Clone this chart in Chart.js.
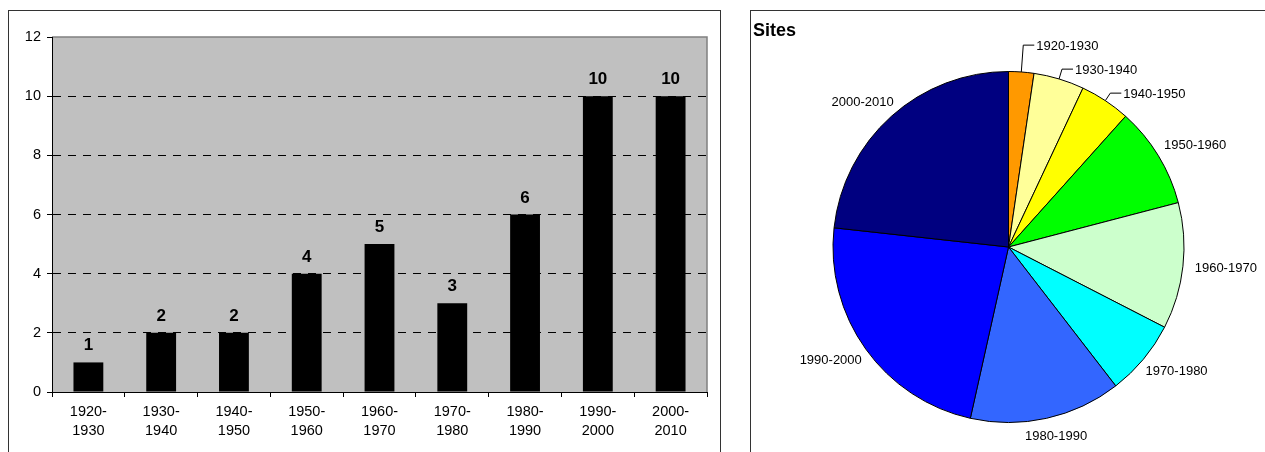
<!DOCTYPE html>
<html>
<head>
<meta charset="utf-8">
<script src="https://cdn.jsdelivr.net/npm/chart.js@4"></script>
<style>
  body { margin: 0; width: 1265px; height: 452px; overflow: hidden; background: #fff; font-family: "Liberation Sans", Arial, sans-serif; }
  .box { position: absolute; border: 1px solid #333; background: #fff; }
  #barBox { left: 8px; top: 10px; width: 711px; height: 460px; }
  #pieBox { left: 750px; top: 10px; width: 530px; height: 460px; }
  canvas { position: absolute; left: 0; top: 0; }
</style>
</head>
<body>
<div class="box" id="barBox"><canvas id="barChart" width="711" height="441"></canvas></div>
<div class="box" id="pieBox"><canvas id="pieChart" width="515" height="441"></canvas></div>
<script>
// Decades and number of sites per decade
const decades = ['1920-1930', '1930-1940', '1940-1950', '1950-1960', '1960-1970',
                 '1970-1980', '1980-1990', '1990-2000', '2000-2010'];
const siteCounts = [1, 2, 2, 4, 5, 3, 6, 10, 10];
const yTicks = [0, 2, 4, 6, 8, 10, 12];
const pieColors = ['#FF9900', '#FFFF99', '#FFFF00', '#00FF00', '#CCFFCC',
                   '#00FFFF', '#3366FF', '#0000FF', '#000080'];
const pieTitle = 'Sites';

const FONT = '"Liberation Sans", Arial, sans-serif';

// Grey plot area with a grey edge on top and right
const plotBackground = {
    id: 'plotBackground',
    beforeDraw(chart) {
        const { ctx, chartArea: a } = chart;
        ctx.save();
        ctx.fillStyle = '#C0C0C0';
        ctx.fillRect(a.left, a.top, a.right - a.left, a.bottom - a.top);
        ctx.strokeStyle = '#808080';
        ctx.lineWidth = 1.5;
        ctx.beginPath();
        ctx.moveTo(a.left, a.top);
        ctx.lineTo(a.right, a.top);
        ctx.lineTo(a.right, a.bottom);
        ctx.stroke();
        ctx.restore();
    }
};

// Bold value labels above each bar
const barValues = {
    id: 'barValues',
    afterDatasetsDraw(chart) {
        const { ctx } = chart;
        const meta = chart.getDatasetMeta(0);
        ctx.save();
        ctx.font = 'bold 17px ' + FONT;
        ctx.fillStyle = '#000';
        ctx.textAlign = 'center';
        ctx.textBaseline = 'alphabetic';
        meta.data.forEach((bar, i) => {
            ctx.fillText(String(siteCounts[i]), bar.x, bar.y - 12);
        });
        ctx.restore();
    }
};

new Chart(document.getElementById('barChart'), {
    type: 'bar',
    data: {
        labels: decades.map(d => { const p = d.split('-'); return [p[0] + '-', p[1]]; }),
        datasets: [{
            data: siteCounts,
            backgroundColor: '#000',
            barPercentage: 0.41,
            categoryPercentage: 1
        }]
    },
    options: {
        responsive: false,
        animation: false,
        layout: { padding: { left: 0, right: 13, top: 26, bottom: 0 } },
        plugins: { legend: { display: false }, tooltip: { enabled: false } },
        scales: {
            x: {
                offset: true,
                grid: { offset: true, drawOnChartArea: false, color: '#000', tickLength: 5 },
                border: { color: '#000', width: 1 },
                ticks: { color: '#000', font: { family: FONT, size: 14.5, lineHeight: 1.3 }, padding: 6, maxRotation: 0 },
                afterFit(scale) { scale.height = 60; }
            },
            y: {
                min: 0,
                max: 12,
                afterBuildTicks(scale) { scale.ticks = yTicks.map(v => ({ value: v })); },
                grid: {
                    color: ctx => (ctx.tick && (ctx.tick.value === 0 || ctx.tick.value === 12)) ? 'rgba(0,0,0,0)' : '#000',
                    tickColor: '#000',
                    tickLength: 5,
                    tickBorderDash: []
                },
                border: { color: '#000', width: 1, dash: [8, 7] },
                ticks: { color: '#000', font: { family: FONT, size: 14.5 }, padding: 6 },
                afterFit(scale) { scale.width = 43; }
            }
        }
    },
    plugins: [plotBackground, barValues]
});

// Pie labels outside the slices; small slices get leader lines and are stacked
const pieLabels = {
    id: 'pieLabels',
    afterDatasetsDraw(chart) {
        const { ctx } = chart;
        const meta = chart.getDatasetMeta(0);
        const total = siteCounts.reduce((a, b) => a + b, 0);
        ctx.save();
        ctx.font = '13px ' + FONT;
        ctx.fillStyle = '#000';
        ctx.strokeStyle = '#000';
        ctx.lineWidth = 1;
        ctx.textBaseline = 'middle';

        // title
        ctx.save();
        ctx.font = 'bold 18px ' + FONT;
        ctx.textAlign = 'left';
        ctx.fillText(pieTitle, 2, 20);
        ctx.restore();

        let lastY = Infinity;
        for (let i = meta.data.length - 1; i >= 0; i--) {
            const arc = meta.data[i];
            const mid = (arc.startAngle + arc.endAngle) / 2;
            const r = arc.outerRadius;
            const cx = arc.x, cy = arc.y;
            const cos = Math.cos(mid), sin = Math.sin(mid);
            const text = decades[i];
            const w = ctx.measureText(text).width;
            if (siteCounts[i] / total < 0.05) {
                // leader line version
                const px = cx + r * cos, py = cy + r * sin;
                let ey = cy + (r + 9) * sin;
                if (ey > lastY - 24) ey = lastY - 24;
                lastY = ey;
                const t = (cy - ey) / -sin;
                const ex = cx + t * cos;
                ctx.beginPath();
                ctx.moveTo(px, py);
                ctx.lineTo(ex, ey);
                ctx.lineTo(ex + 11, ey);
                ctx.stroke();
                ctx.textAlign = 'left';
                ctx.fillText(text, ex + 13, ey + 1);
            } else {
                const gap = 12;
                const lx = cx + (r + gap) * cos + (w / 2) * cos;
                const ly = cy + (r + gap) * sin + 7 * sin;
                ctx.textAlign = 'center';
                ctx.fillText(text, lx, ly);
            }
        }
        ctx.restore();
    }
};

new Chart(document.getElementById('pieChart'), {
    type: 'pie',
    data: {
        labels: decades,
        datasets: [{
            data: siteCounts,
            backgroundColor: pieColors,
            borderColor: '#000',
            borderWidth: 1
        }]
    },
    options: {
        responsive: false,
        animation: false,
        layout: { padding: { left: 40, right: 40, top: 60, bottom: 29 } },
        plugins: { legend: { display: false }, tooltip: { enabled: false } }
    },
    plugins: [pieLabels]
});
</script>
</body>
</html>
